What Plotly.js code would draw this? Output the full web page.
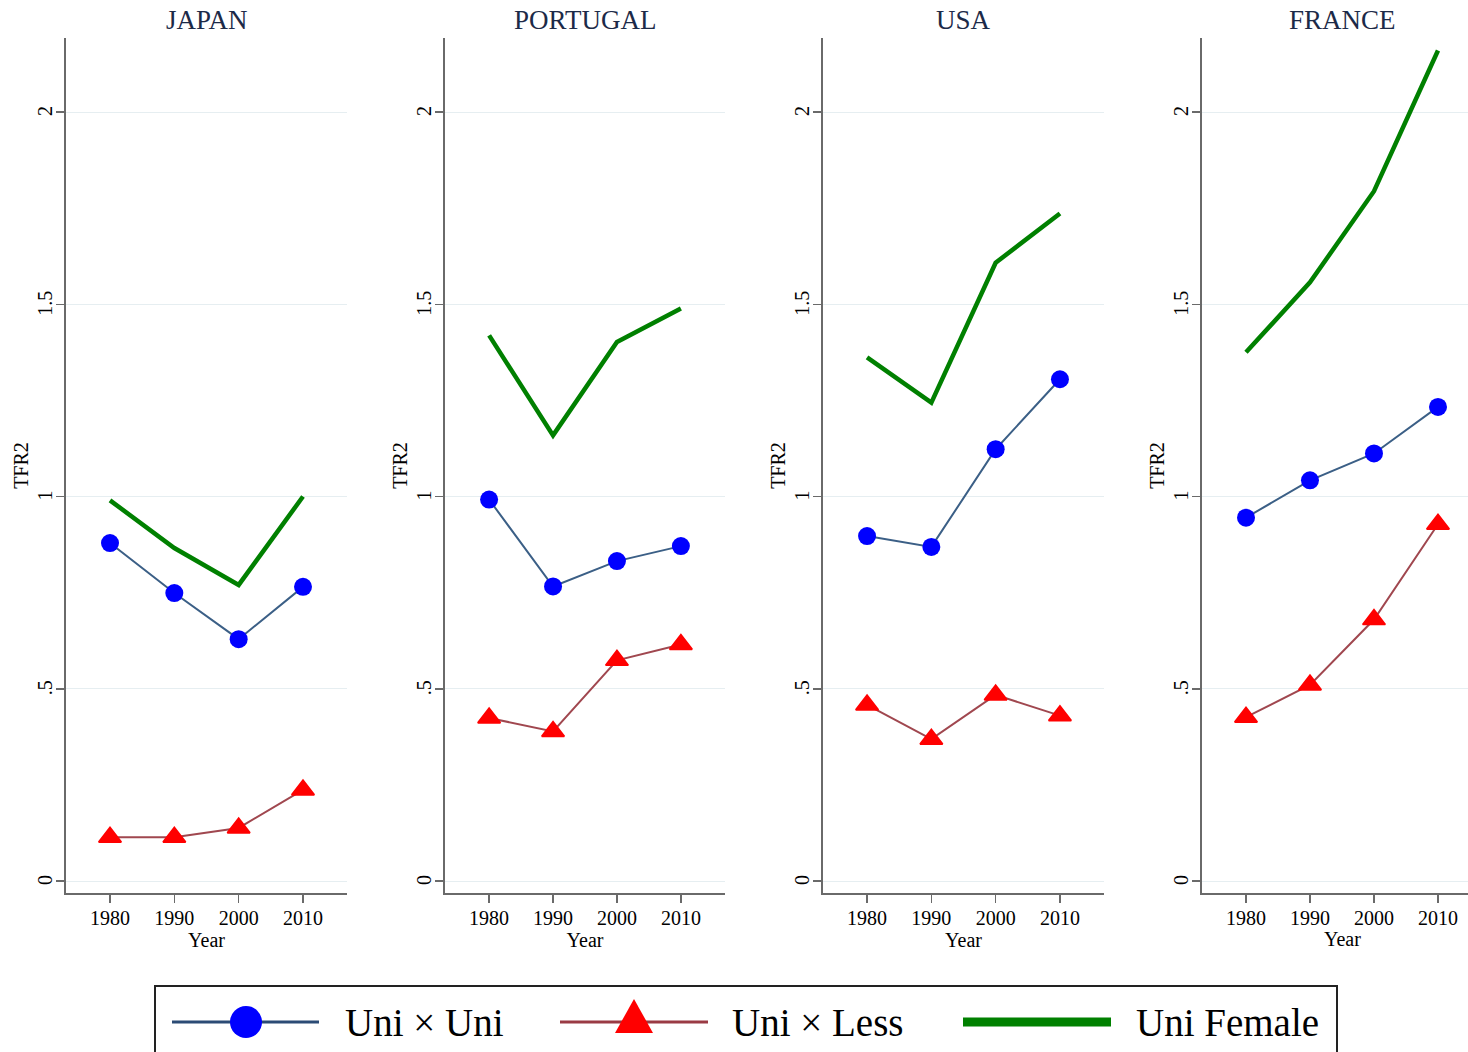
<!DOCTYPE html>
<html><head><meta charset="utf-8">
<script src="https://cdn.plot.ly/plotly-3.0.1.min.js"></script>
<style>html,body{margin:0;padding:0;background:#fff;} #chart{width:1468px;height:1052px;}</style>
</head><body><div id="chart"></div>
<script>
// ---- data ----
const years = [1980, 1990, 2000, 2010];
const countries = ['JAPAN', 'PORTUGAL', 'USA', 'FRANCE'];
const seriesNames = ['Uni × Uni', 'Uni × Less', 'Uni Female'];

const japanUniUni = [0.879, 0.749, 0.629, 0.765];
const japanUniLess = [0.114, 0.114, 0.138, 0.237];
const japanUniFemale = [0.990, 0.866, 0.770, 1.000];

const portugalUniUni = [0.992, 0.766, 0.832, 0.871];
const portugalUniLess = [0.424, 0.389, 0.574, 0.615];
const portugalUniFemale = [1.419, 1.159, 1.402, 1.489];

const usaUniUni = [0.897, 0.869, 1.123, 1.305];
const usaUniLess = [0.458, 0.369, 0.484, 0.430];
const usaUniFemale = [1.362, 1.244, 1.608, 1.736];

const franceUniUni = [0.945, 1.042, 1.112, 1.233];
const franceUniLess = [0.426, 0.510, 0.680, 0.928];
const franceUniFemale = [1.375, 1.557, 1.794, 2.160];

const yTickVals = [0, 0.5, 1, 1.5, 2];
const yTickText = ['0', '.5', '1', '1.5', '2'];
const xTickVals = [1980, 1990, 2000, 2010];
const xTickText = ['1980', '1990', '2000', '2010'];

// ---- styling ----
const W = 1468, H = 1052;
const PX = p => p / W;
const PY = p => 1 - p / H;
const FONT = 'Liberation Serif, Times New Roman, serif';
const C_BLUE_LINE = '#3b5f86', C_BLUE_MK = '#0000ff';
const C_RED_LINE = '#a0474f', C_RED_MK = '#ff0000';
const C_GREEN = '#008000';
const AXIS_C = '#6a6a6a';

const panelData = [
  [japanUniUni, japanUniLess, japanUniFemale],
  [portugalUniUni, portugalUniLess, portugalUniFemale],
  [usaUniUni, usaUniLess, usaUniFemale],
  [franceUniUni, franceUniLess, franceUniFemale]
];
const panelLeft = [66, 445, 823, 1202];
const panelRight = [347, 725, 1104, 1468];
const panelCenter = [206.5, 585, 963.5, 1342];
const xRanges = [[1973.16, 2016.84], [1973.1, 2016.9], [1973.15, 2016.85], [1973.125, 2014.69]];
const yDomain = [PY(893), PY(38)];
const yRange = [-0.0312, 2.1925];
// trailing thin space nudges the rotated labels slightly down, as in the reference
const yTickTextPadded = yTickText.map(t => t + '\u2009');

const traces = [];
const layout = {
  width: W, height: H,
  margin: {l: 0, r: 0, t: 0, b: 0},
  paper_bgcolor: '#fff', plot_bgcolor: '#fff',
  showlegend: false,
  font: {family: FONT, color: '#000'},
  annotations: [], shapes: []
};

countries.forEach((c, i) => {
  const n = i === 0 ? '' : String(i + 1);
  const xa = 'x' + n, ya = 'y' + n;
  const [uu, ul, uf] = panelData[i];
  traces.push({
    x: years, y: uu, xaxis: xa, yaxis: ya, name: seriesNames[0], type: 'scatter', mode: 'lines+markers',
    line: {color: C_BLUE_LINE, width: 2}, marker: {color: C_BLUE_MK, size: 18, symbol: 'circle'}
  });
  traces.push({
    x: years, y: ul, xaxis: xa, yaxis: ya, name: seriesNames[1], type: 'scatter', mode: 'lines+markers',
    line: {color: C_RED_LINE, width: 2},
    marker: {color: C_RED_MK, size: 19.5, symbol: 'triangle-up', line: {color: C_RED_MK, width: 1.8}}
  });
  traces.push({
    x: years, y: uf, xaxis: xa, yaxis: ya, name: seriesNames[2], type: 'scatter', mode: 'lines',
    line: {color: C_GREEN, width: 4.5}
  });
  const clipped = i === 3; // the last panel runs past the right edge of the image
  layout['xaxis' + n] = {
    domain: [PX(panelLeft[i]), PX(panelRight[i])], anchor: ya, range: xRanges[i],
    tickmode: 'array', tickvals: xTickVals, ticktext: xTickText,
    ticks: 'outside', ticklen: 8, tickwidth: 1.5, tickcolor: AXIS_C, ticklabelstandoff: -2,
    showline: true, linecolor: AXIS_C, linewidth: 2, showgrid: false, zeroline: false,
    tickfont: {family: FONT, size: 20, color: '#000'},
    title: {text: clipped ? '' : 'Year', font: {family: FONT, size: 20, color: '#000'}, standoff: 0},
    fixedrange: true
  };
  if (clipped) {
    layout.annotations.push({
      text: 'Year', xref: 'paper', yref: 'paper', x: PX(panelCenter[i]), y: PY(939),
      xanchor: 'center', yanchor: 'middle', showarrow: false,
      font: {family: FONT, size: 20, color: '#000'}
    });
  }
  layout['yaxis' + n] = {
    domain: yDomain, anchor: xa, range: yRange,
    tickmode: 'array', tickvals: yTickVals, ticktext: yTickTextPadded, tickangle: -90,
    ticks: 'outside', ticklen: 8, tickwidth: 1.5, tickcolor: AXIS_C, ticklabelstandoff: -4,
    showline: true, linecolor: AXIS_C, linewidth: 2,
    showgrid: true, gridcolor: '#e6eef1', gridwidth: 1, zeroline: false,
    tickfont: {family: FONT, size: 20, color: '#000'},
    title: {text: 'TFR2', font: {family: FONT, size: 20, color: '#000'}, standoff: 0},
    fixedrange: true
  };
  layout.annotations.push({
    text: c, xref: 'paper', yref: 'paper', x: PX(panelCenter[i]), y: PY(20),
    xanchor: 'center', yanchor: 'middle', showarrow: false,
    font: {family: FONT, size: 27, color: '#1c2a48'}
  });
});

// ---- custom legend (decoration) ----
layout.shapes.push({type: 'rect', xref: 'paper', yref: 'paper', x0: PX(155), x1: PX(1337), y0: PY(986), y1: PY(1080),
  line: {color: '#222', width: 2}, fillcolor: 'rgba(0,0,0,0)'});
layout.shapes.push({type: 'line', xref: 'paper', yref: 'paper', x0: PX(172), x1: PX(319), y0: PY(1022), y1: PY(1022),
  line: {color: '#2b4b75', width: 3}});
layout.shapes.push({type: 'circle', xref: 'paper', yref: 'paper', x0: PX(230), x1: PX(262), y0: PY(1006), y1: PY(1038),
  fillcolor: C_BLUE_MK, line: {width: 0}});
layout.shapes.push({type: 'line', xref: 'paper', yref: 'paper', x0: PX(560), x1: PX(708), y0: PY(1022), y1: PY(1022),
  line: {color: '#9a3b44', width: 3}});
layout.shapes.push({type: 'path', xref: 'paper', yref: 'paper',
  path: `M${PX(615)},${PY(1033)} L${PX(653)},${PY(1033)} L${PX(634)},${PY(999)} Z`,
  fillcolor: C_RED_MK, line: {width: 0}});
layout.shapes.push({type: 'line', xref: 'paper', yref: 'paper', x0: PX(963), x1: PX(1111), y0: PY(1022), y1: PY(1022),
  line: {color: C_GREEN, width: 9}});
const legendText = [[seriesNames[0], 343], [seriesNames[1], 730], [seriesNames[2], 1134]];
legendText.forEach(([t, x]) => {
  layout.annotations.push({text: t, xref: 'paper', yref: 'paper', x: PX(x), y: PY(1022), xanchor: 'left', yanchor: 'middle',
    showarrow: false, font: {family: FONT, size: 39, color: '#000'}});
});

Plotly.newPlot('chart', traces, layout, {displayModeBar: false, staticPlot: true});
</script>
</body></html>
